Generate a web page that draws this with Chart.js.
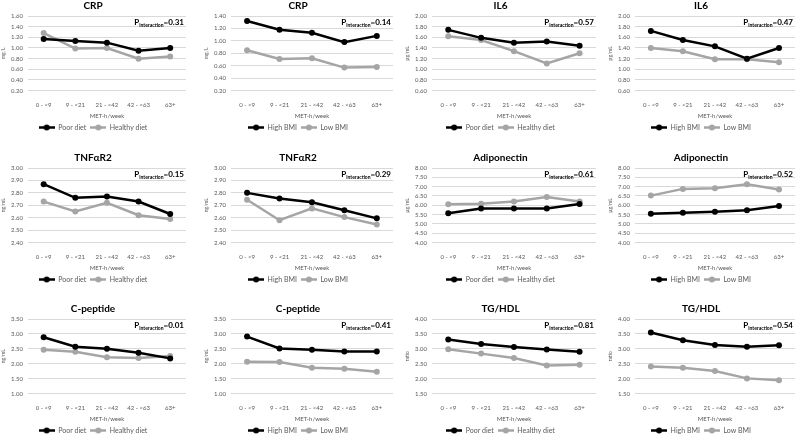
<!DOCTYPE html>
<html><head><meta charset="utf-8">
<script src="https://cdn.jsdelivr.net/npm/chart.js@4"></script>
<style>
html,body{margin:0;padding:0;background:#fff;}
#wrap{position:relative;width:800px;height:436px;overflow:hidden;background:#fff;}
.p{position:absolute;width:200px;}
canvas{display:block;}
</style></head><body><div id="wrap"></div>
<script>
const categories = ['0 - <9', '9 - <21', '21 - <42', '42 - <63', '63+'];
const xAxisTitle = 'MET-h/week';

const crpPoorDiet = [1.17, 1.13, 1.10, 0.95, 1.00];
const crpHealthyDiet = [1.28, 0.99, 1.00, 0.80, 0.84];
const crpHighBMI = [1.32, 1.18, 1.13, 0.98, 1.08];
const crpLowBMI = [0.85, 0.71, 0.72, 0.57, 0.58];

const il6PoorDiet = [1.74, 1.59, 1.50, 1.52, 1.44];
const il6HealthyDiet = [1.62, 1.55, 1.34, 1.11, 1.30];
const il6HighBMI = [1.72, 1.55, 1.43, 1.20, 1.40];
const il6LowBMI = [1.40, 1.34, 1.19, 1.19, 1.13];

const tnfPoorDiet = [2.87, 2.76, 2.77, 2.73, 2.63];
const tnfHealthyDiet = [2.73, 2.65, 2.72, 2.62, 2.59];
const tnfHighBMI = [2.80, 2.755, 2.725, 2.66, 2.595];
const tnfLowBMI = [2.745, 2.58, 2.675, 2.605, 2.545];

const adipoPoorDiet = [5.57, 5.83, 5.83, 5.83, 6.07];
const adipoHealthyDiet = [6.05, 6.08, 6.20, 6.45, 6.20];
const adipoHighBMI = [5.55, 5.60, 5.66, 5.73, 5.96];
const adipoLowBMI = [6.52, 6.88, 6.91, 7.13, 6.85];

const cpepPoorDiet = [2.89, 2.57, 2.50, 2.37, 2.18];
const cpepHealthyDiet = [2.47, 2.40, 2.22, 2.19, 2.26];
const cpepHighBMI = [2.91, 2.51, 2.47, 2.41, 2.41];
const cpepLowBMI = [2.07, 2.06, 1.87, 1.83, 1.73];

const tgPoorDiet = [3.31, 3.16, 3.06, 2.98, 2.90];
const tgHealthyDiet = [2.99, 2.84, 2.69, 2.44, 2.47];
const tgHighBMI = [3.55, 3.29, 3.13, 3.07, 3.12];
const tgLowBMI = [2.41, 2.37, 2.26, 2.01, 1.95];

const panelTitles = ['CRP', 'CRP', 'IL6', 'IL6', 'TNF\u03b1R2', 'TNF\u03b1R2', 'Adiponectin', 'Adiponectin', 'C-peptide', 'C-peptide', 'TG/HDL', 'TG/HDL'];
const panelUnits = ['mg/L', 'mg/L', 'pg/mL', 'pg/mL', 'ng/mL', 'ng/mL', '\u03bcg/mL', '\u03bcg/mL', 'ng/mL', 'ng/mL', 'ratio', 'ratio'];
const pInteraction = ['0.31', '0.14', '0.57', '0.47', '0.15', '0.29', '0.61', '0.52', '0.01', '0.41', '0.81', '0.54'];
const seriesA = [crpPoorDiet, crpHighBMI, il6PoorDiet, il6HighBMI, tnfPoorDiet, tnfHighBMI, adipoPoorDiet, adipoHighBMI, cpepPoorDiet, cpepHighBMI, tgPoorDiet, tgHighBMI];
const seriesB = [crpHealthyDiet, crpLowBMI, il6HealthyDiet, il6LowBMI, tnfHealthyDiet, tnfLowBMI, adipoHealthyDiet, adipoLowBMI, cpepHealthyDiet, cpepLowBMI, tgHealthyDiet, tgLowBMI];
const labelsA = ['Poor diet', 'High BMI'];
const labelsB = ['Healthy diet', 'Low BMI'];
const yMin = [0.2, 0.2, 0.6, 0.6, 2.4, 2.4, 4, 4, 1, 1, 1.5, 1.5];
const yMax = [1.6, 1.4, 2.0, 2.0, 3.0, 3.0, 8, 8, 3.5, 3.5, 4, 4];
const yStep = [0.2, 0.2, 0.2, 0.2, 0.1, 0.1, 0.5, 0.5, 0.5, 0.5, 0.5, 0.5];

const FONT = 'Lato, "Liberation Sans", sans-serif';
const BLACK = '#000000';
const GRAY = '#a5a5a5';
const TXT = '#595959';

function marker(color) {
  const c = document.createElement('canvas');
  c.width = 16; c.height = 7;
  const x = c.getContext('2d');
  x.strokeStyle = color; x.lineWidth = 2.5;
  x.beginPath(); x.moveTo(0, 3.5); x.lineTo(16, 3.5); x.stroke();
  x.fillStyle = color;
  x.beginPath(); x.arc(8, 3.5, 3, 0, Math.PI * 2); x.fill();
  return c;
}
const markers = [marker(BLACK), marker(GRAY)];

const pPlugin = {
  id: 'pint',
  afterDraw(chart, args, opts) {
    const ctx = chart.ctx, a = chart.chartArea;
    ctx.save();
    ctx.fillStyle = '#000';
    ctx.textBaseline = 'alphabetic';
    const big = 'bold 8px ' + FONT, small = 'bold 5px ' + FONT;
    ctx.font = big; const w1 = ctx.measureText('P').width;
    const w3 = ctx.measureText('=' + opts.value).width;
    ctx.font = small; const w2 = ctx.measureText('interaction').width;
    let x = a.right - 2 - (w1 + w2 + w3);
    const y = a.top + 9;
    ctx.font = big; ctx.fillText('P', x, y); x += w1;
    ctx.font = small; ctx.fillText('interaction', x, y + 1.5); x += w2;
    ctx.font = big; ctx.fillText('=' + opts.value, x, y);
    ctx.restore();
  }
};

const rowTop = [0, 152, 303];
const panelH = 141;
const colLeft = [0, 200, 400, 600];
const colPadLeft = [0, 3, 4, 7];
const colPadRight = [14, 7, 3, 5];

const wrap = document.getElementById('wrap');
for (let i = 0; i < 12; i++) {
  const row = Math.floor(i / 4), col = i % 4;
  const d = document.createElement('div');
  d.className = 'p';
  d.style.left = colLeft[col] + 'px';
  d.style.top = rowTop[row] + 'px';
  d.style.height = panelH + 'px';
  const cv = document.createElement('canvas');
  cv.width = 200; cv.height = panelH;
  d.appendChild(cv);
  wrap.appendChild(d);
  const kind = i % 2;
  new Chart(cv, {
    type: 'line',
    data: {
      labels: categories,
      datasets: [
        { label: labelsA[kind], data: seriesA[i], borderColor: BLACK, backgroundColor: BLACK, borderWidth: 2.5, pointRadius: 3, pointBackgroundColor: BLACK, pointBorderWidth: 0, tension: 0 },
        { label: labelsB[kind], data: seriesB[i], borderColor: GRAY, backgroundColor: GRAY, borderWidth: 2.5, pointRadius: 3, pointBackgroundColor: GRAY, pointBorderWidth: 0, tension: 0 }
      ]
    },
    options: {
      responsive: false, animation: false, devicePixelRatio: 1,
      layout: { padding: { top: 0, bottom: 0, left: colPadLeft[col], right: colPadRight[col] } },
      plugins: {
        tooltip: { enabled: false },
        title: { display: true, text: panelTitles[i], color: '#000', font: { family: FONT, size: 10, weight: 'bold' }, padding: { top: 0, bottom: 4 } },
        legend: {
          position: 'bottom',
          labels: {
            usePointStyle: true, pointStyleWidth: 16, boxHeight: 7, padding: 4, color: TXT,
            font: { family: FONT, size: 7 },
            generateLabels(chart) {
              return Chart.defaults.plugins.legend.labels.generateLabels(chart).map((l, k) => Object.assign(l, { pointStyle: markers[k] }));
            }
          }
        },
        pint: { value: pInteraction[i] }
      },
      scales: {
        x: {
          offset: true,
          grid: { display: false }, border: { display: false },
          ticks: { color: TXT, font: { family: FONT, size: 6 }, maxRotation: 0, autoSkip: false, padding: 3 },
          title: { display: true, text: xAxisTitle, color: TXT, font: { family: FONT, size: 6 }, padding: { top: 1, bottom: 0 } }
        },
        y: {
          min: yMin[i], max: yMax[i],
          grid: { color: '#d9d9d9', drawTicks: false, lineWidth: 1 }, border: { display: false },
          ticks: { stepSize: yStep[i], autoSkip: false, color: TXT, font: { family: FONT, size: 6 }, padding: 5, callback: v => v.toFixed(2) },
          title: { display: true, text: panelUnits[i], color: TXT, font: { family: FONT, size: 5 }, padding: { top: 0, bottom: 0 } }
        }
      }
    },
    plugins: [pPlugin]
  });
}
</script></body></html>
